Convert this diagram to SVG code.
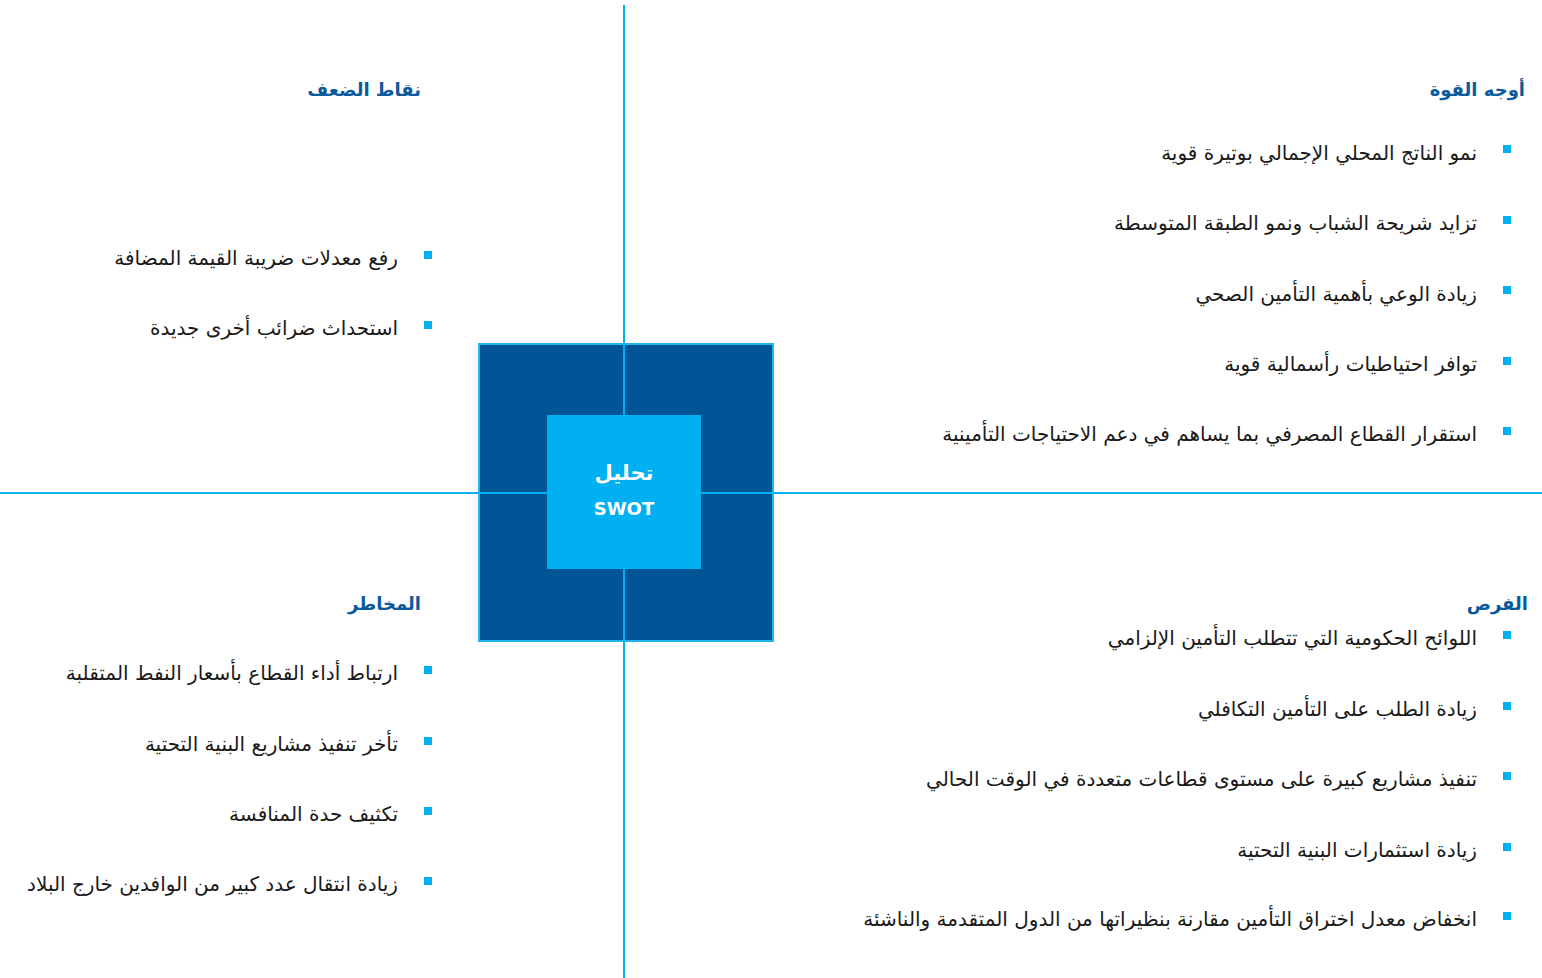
<svg xmlns="http://www.w3.org/2000/svg" width="1542" height="978" viewBox="0 0 1542 978">
<style>
.h{font-family:"DejaVu Sans","Noto Sans",sans-serif;font-weight:bold;font-size:18px;fill:#0a5a9c;text-anchor:end}
.t{font-family:"DejaVu Sans","Noto Sans",sans-serif;font-size:20px;fill:#1a1a1a;text-anchor:end}
.b{fill:#00b0f0}
.ln{stroke:#00b0f0;stroke-width:2;fill:none}
.c{font-family:"DejaVu Sans","Noto Sans",sans-serif;font-weight:bold;font-size:18px;fill:#ffffff;text-anchor:middle}
.ca{font-size:21px}
</style>
<rect width="1542" height="978" fill="#ffffff"/>
<g id="center-outer">
<rect x="479" y="344" width="294" height="297" fill="#005596" stroke="#1fb4ee" stroke-width="2"/>
</g>
<g id="connectors">
<line class="ln" x1="624" y1="5" x2="624" y2="978"/>
<line class="ln" x1="0" y1="493" x2="1542" y2="493"/>
</g>
<g id="center">
<rect x="547" y="415" width="154" height="154" fill="#00b0f0"/>
<text class="c ca" x="624" y="480">تحليل</text>
<text class="c" x="624" y="515">SWOT</text>
</g>
<g id="strengths">
<text class="h" x="1525" y="96">أوجه القوة</text>
<rect class="b" x="1503" y="145" width="8" height="8"/>
<text class="t" x="1477" y="160">نمو الناتج المحلي الإجمالي بوتيرة قوية</text>
<rect class="b" x="1503" y="216" width="8" height="8"/>
<text class="t" x="1477" y="230">تزايد شريحة الشباب ونمو الطبقة المتوسطة</text>
<rect class="b" x="1503" y="286" width="8" height="8"/>
<text class="t" x="1477" y="301">زيادة الوعي بأهمية التأمين الصحي</text>
<rect class="b" x="1503" y="357" width="8" height="8"/>
<text class="t" x="1477" y="371">توافر احتياطيات رأسمالية قوية</text>
<rect class="b" x="1503" y="427" width="8" height="8"/>
<text class="t" x="1477" y="441">استقرار القطاع المصرفي بما يساهم في دعم الاحتياجات التأمينية</text>
</g>
<g id="weaknesses">
<text class="h" x="421" y="96">نقاط الضعف</text>
<rect class="b" x="424" y="251" width="8" height="8"/>
<text class="t" x="398" y="265">رفع معدلات ضريبة القيمة المضافة</text>
<rect class="b" x="424" y="321" width="8" height="8"/>
<text class="t" x="398" y="335">استحداث ضرائب أخرى جديدة</text>
</g>
<g id="threats">
<text class="h" x="421" y="610">المخاطر</text>
<rect class="b" x="424" y="666" width="8" height="8"/>
<text class="t" x="398" y="680">ارتباط أداء القطاع بأسعار النفط المتقلبة</text>
<rect class="b" x="424" y="737" width="8" height="8"/>
<text class="t" x="398" y="751">تأخر تنفيذ مشاريع البنية التحتية</text>
<rect class="b" x="424" y="807" width="8" height="8"/>
<text class="t" x="398" y="821">تكثيف حدة المنافسة</text>
<rect class="b" x="424" y="877" width="8" height="8"/>
<text class="t" x="398" y="891">زيادة انتقال عدد كبير من الوافدين خارج البلاد</text>
</g>
<g id="opportunities">
<text class="h" x="1528" y="610">الفرص</text>
<rect class="b" x="1503" y="631" width="8" height="8"/>
<text class="t" x="1477" y="645">اللوائح الحكومية التي تتطلب التأمين الإلزامي</text>
<rect class="b" x="1503" y="702" width="8" height="8"/>
<text class="t" x="1477" y="716">زيادة الطلب على التأمين التكافلي</text>
<rect class="b" x="1503" y="772" width="8" height="8"/>
<text class="t" x="1477" y="786">تنفيذ مشاريع كبيرة على مستوى قطاعات متعددة في الوقت الحالي</text>
<rect class="b" x="1503" y="843" width="8" height="8"/>
<text class="t" x="1477" y="857">زيادة استثمارات البنية التحتية</text>
<rect class="b" x="1503" y="912" width="8" height="8"/>
<text class="t" x="1477" y="926">انخفاض معدل اختراق التأمين مقارنة بنظيراتها من الدول المتقدمة والناشئة</text>
</g>
</svg>
